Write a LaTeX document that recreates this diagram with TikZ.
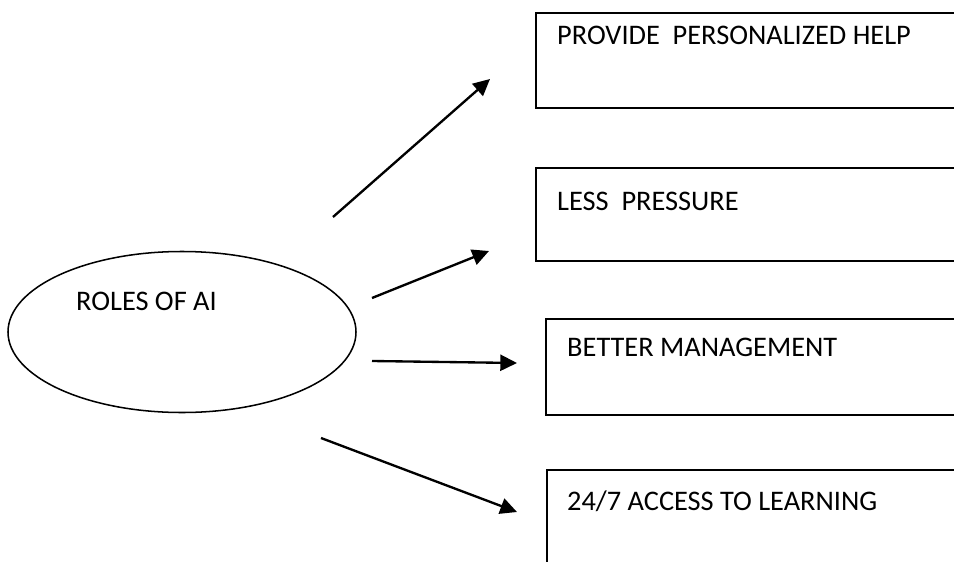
\documentclass[tikz,border=0pt]{standalone}
\usepackage{fontspec}
\setmainfont{Carlito}
\usetikzlibrary{arrows.meta,shapes.geometric}
\begin{document}
\begin{tikzpicture}[x=0.03cm, y=-0.03cm,
  box/.style={draw, line width=1.3pt, anchor=north west, minimum width=14cm},
  lbl/.style={anchor=west, inner sep=0pt, font=\fontsize{24.2}{28}\selectfont},
  pfeil/.style={line width=2pt, -{Triangle[length=0.5cm, width=0.48cm]}}]
\useasboundingbox (0,0) rectangle (954,562);
\clip (0,0) rectangle (954,562);
\node[draw, ellipse, line width=1.3pt, minimum width=10.44cm, minimum height=4.83cm] (roles) at (182,332) {};
\node[lbl] (rolestxt) at (76,301) {ROLES OF AI};
\node[box, minimum height=2.85cm] (help) at (535,12) {};
\node[lbl] (helptxt) at (557,35) {PROVIDE\ \ PERSONALIZED HELP};
\node[box, minimum height=2.79cm] (less) at (535,167) {};
\node[lbl] (lesstxt) at (557,201) {LESS\ \ PRESSURE};
\node[box, minimum height=2.88cm] (better) at (545,318) {};
\node[lbl] (bettertxt) at (567,347) {BETTER MANAGEMENT};
\node[box, minimum height=3.6cm] (access) at (546,469) {};
\node[lbl] (accesstxt) at (567,501) {24/7 ACCESS TO LEARNING};
% arrows
\coordinate (a1) at (333,217); \coordinate (b1) at (490,79);
\coordinate (a2) at (372,298); \coordinate (b2) at (489,251);
\coordinate (a3) at (372,361); \coordinate (b3) at (517,363);
\coordinate (a4) at (321,438); \coordinate (b4) at (517,512);
\draw[pfeil] (a1) to (b1);
\draw[pfeil] (a2) to (b2);
\draw[pfeil] (a3) to (b3);
\draw[pfeil] (a4) to (b4);
\end{tikzpicture}
\end{document}
